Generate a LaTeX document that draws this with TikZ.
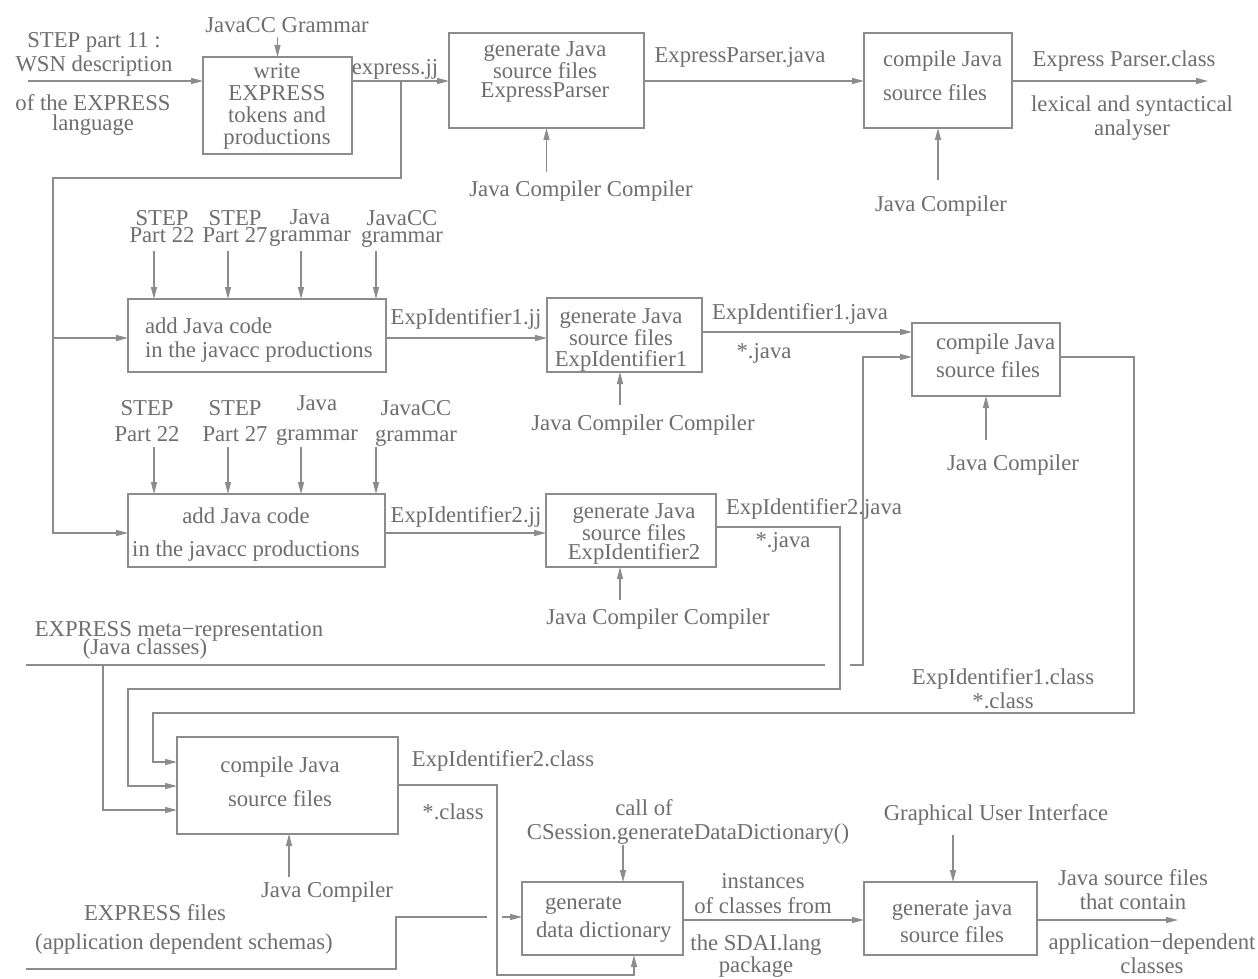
\documentclass[tikz,border=0pt]{standalone}
\usepackage{fontspec}
\setmainfont{Liberation Serif}
\usetikzlibrary{arrows.meta,fit,calc}
\definecolor{inkc}{RGB}{110,110,110}
\definecolor{linec}{RGB}{140,140,140}
\begin{document}
\begin{tikzpicture}[x=1pt,y=-1pt,
  every node/.style={inner sep=0pt,outer sep=0pt},
  procbox/.style={draw=linec,line width=1.4pt},
  txt/.style={text=inkc,font=\fontsize{22.7}{#1}\selectfont,anchor=north,align=center},
  txt/.default=20,
  ltxt/.style={txt=#1,anchor=north west,align=left},
  ltxt/.default=20,
  ln/.style={draw=linec,line width=1.3pt},
  arr/.style={ln,-{Triangle[length=12pt,width=6pt]}}]
\fill[white] (0,0) rectangle (1258,979);
\useasboundingbox (0,0) rectangle (1258,979);

% ---------- process boxes ----------
\node[procbox,fit={(203,57) (352,154)}]   (w)  {};
\node[procbox,fit={(449,33) (644,128)}]   (g1) {};
\node[procbox,fit={(864,33) (1012,128)}]  (c1) {};
\node[procbox,fit={(128,299) (386,372)}]  (a1) {};
\node[procbox,fit={(547,298) (702,372)}]  (g2) {};
\node[procbox,fit={(912,323) (1060,396)}] (c2) {};
\node[procbox,fit={(128,494) (385,567)}]  (a2) {};
\node[procbox,fit={(546,494) (716,567)}]  (g3) {};
\node[procbox,fit={(177,737) (398,834)}]  (c3) {};
\node[procbox,fit={(522,882) (683,955)}]  (d)  {};
\node[procbox,fit={(864,882) (1037,955)}] (gj) {};

% ---------- texts inside the boxes ----------
\node[txt=22] (wt)  at (277,63)  {write\\EXPRESS\\tokens and\\productions};
\node[txt=19] (g1t) at (545,42)  {generate Java\\source files\\ExpressParser};
\node[ltxt=34] (c1t) at (883,51) {compile Java\\source files};
\node[ltxt=24] (a1t) at (145,318) {add Java code\\in the javacc productions};
\node[txt=21.5] (g2t) at (621,309) {generate Java\\source files\\ExpIdentifier1};
\node[ltxt=28] (c2t) at (936,334) {compile Java\\source files};
\node[txt=33] (a2t) at (246,508) {add Java code\\in the javacc productions};
\node[txt=19] (g3t) at (634,504) {generate Java\\source files\\ExpIdentifier2};
\node[txt=34] (c3t) at (280,757) {compile Java\\source files};
\node[ltxt=28] (dt)  at (536,897) {\hspace*{9pt}generate\\data dictionary};
\node[txt=27] (gjt) at (952,900) {generate java\\source files};

% ---------- labels ----------
\node[txt] (jg)    at (287,17)   {JavaCC Grammar};
\node[txt=24] (s11) at (94,32)   {STEP part 11 :\\WSN description};
\node[txt=20] (lang) at (93,95)  {of the EXPRESS\\language};
\node[txt] (ejj)   at (395,59)   {express.jj};
\node[txt] (epj)   at (740,47)   {ExpressParser.java};
\node[txt] (jcc1)  at (581,181)  {Java Compiler Compiler};
\node[txt] (jc1)   at (941,196)  {Java Compiler};
\node[txt] (epc)   at (1124,51)  {Express Parser.class};
\node[txt=24] (lex) at (1132,96) {lexical and syntactical\\analyser};

\node[txt=17] (s22a) at (162,210) {STEP\\Part 22};
\node[txt=17] (s27a) at (235,210) {STEP\\Part 27};
\node[txt=17] (jga)  at (310,210) {Java\\grammar};
\node[txt=17] (jcga) at (402,210) {JavaCC\\grammar};
\node[txt] (e1jj)  at (466,309)  {ExpIdentifier1.jj};
\node[txt] (e1jv)  at (800,304)  {ExpIdentifier1.java};
\node[txt] (sj1)   at (764,343)  {*.java};
\node[txt] (jcc2)  at (643,415)  {Java Compiler Compiler};
\node[txt] (jc2)   at (1013,455) {Java Compiler};

\node[txt=26] (s22b) at (147,400) {STEP\\Part 22};
\node[txt=26] (s27b) at (235,400) {STEP\\Part 27};
\node[txt=30] (jgb)  at (317,396) {Java\\grammar};
\node[txt=26] (jcgb) at (416,400) {JavaCC\\grammar};
\node[txt] (e2jj)  at (466,507)  {ExpIdentifier2.jj};
\node[txt] (e2jv)  at (814,499)  {ExpIdentifier2.java};
\node[txt] (sj2)   at (783,532)  {*.java};
\node[txt] (jcc3)  at (658,609)  {Java Compiler Compiler};
\node[txt=24] (e1c) at (1003,669) {ExpIdentifier1.class\\*.class};

\node[txt] (meta)  at (179,621)  {EXPRESS meta−representation};
\node[txt] (jcl)   at (145,639)  {(Java classes)};
\node[txt] (e2c)   at (503,751)  {ExpIdentifier2.class};
\node[txt] (sc)    at (453,804)  {*.class};
\node[txt] (jc3)   at (327,882)  {Java Compiler};
\node[txt] (exf)   at (155,905)  {EXPRESS files};
\node[txt] (ads)   at (184,934)  {(application dependent schemas)};
\node[txt] (callof) at (644,800) {call of};
\node[txt] (csess) at (688,824)  {CSession.generateDataDictionary()};
\node[txt=25] (inst) at (763,873) {instances\\of classes from};
\node[txt=19] (sdai) at (756,935) {the SDAI.lang\\package};
\node[txt] (gui)   at (996,805)  {Graphical User Interface};
\node[txt=24] (jsf) at (1133,870) {Java source files\\that contain};
\node[txt=24] (appd) at (1152,934) {application−dependent\\classes};

% ---------- free ends ----------
\coordinate (src11) at (28,81);
\coordinate (split) at (401,81);
\coordinate (out1)  at (1208,81);
\coordinate (metaL) at (26,665);
\coordinate (exfL)  at (26,969);
\coordinate (outgj) at (1178,920);

% ---------- row 1 ----------
\draw[arr] (src11) -- (w.west |- src11);
\draw[arr] (w.north |- 0,37) -- (w.north);
\draw[arr] (w.east |- src11) -- (g1.west |- src11);
\draw[arr] (split) -- ++(0,97) -| (53,533) -- (a2.west |- 0,533);
\draw[arr] (53,338) -- (a1.west |- 0,338);
\draw[arr] (g1.south |- 0,172) -- (g1.south);
\draw[arr] (g1.east |- src11) -- (c1.west |- src11);
\draw[arr] (c1.south |- 0,180) -- (c1.south);
\draw[arr] (c1.east |- out1) -- (out1);

% ---------- row 2 ----------
\draw[arr] (154,251) -- (a1.north -| 154,0);
\draw[arr] (228,251) -- (a1.north -| 228,0);
\draw[arr] (301,251) -- (a1.north -| 301,0);
\draw[arr] (376,251) -- (a1.north -| 376,0);
\draw[arr] (a1.east |- 0,338) -- (g2.west |- 0,338);
\draw[arr] (620,405) -- (g2.south -| 620,0);
\draw[arr] (g2.east |- 0,332) -- (c2.west |- 0,332);
\draw[arr] (986,440) -- (c2.south -| 986,0);

\draw[arr] (154,447) -- (a2.north -| 154,0);
\draw[arr] (228,447) -- (a2.north -| 228,0);
\draw[arr] (301,447) -- (a2.north -| 301,0);
\draw[arr] (376,447) -- (a2.north -| 376,0);
\draw[arr] (a2.east |- 0,533) -- (g3.west |- 0,533);
\draw[arr] (620,600) -- (g3.south -| 620,0);

% ---------- feedback lines into the lower compile step ----------
\draw[arr] (g3.east |- 0,527) -| (840,689) -| (128,786) -- (c3.west |- 0,786);
\draw[ln]  (metaL) -- (825,665);
\draw[arr] (850,665) -| (863,357) -- (c2.west |- 0,357);
\draw[arr] (103,665) |- (c3.west |- 0,810);
\draw[arr] (c2.east |- 0,357) -| (1134,713) -| (153,762) -- (c3.west |- 0,762);

% ---------- row 3 ----------
\draw[arr] (c3.east |- 0,785) -| (497,975) -| (d.south -| 634,0);
\draw[arr] (c3.south -| 289,0) ++(0,43) -- (c3.south -| 289,0);
\draw[ln]  (exfL) -| (396,917) -- (487,917);
\draw[arr] (502,917) -- (d.west |- 0,917);
\draw[arr] (623,845) -- (d.north -| 623,0);
\draw[arr] (d.east |- 0,920) -- (gj.west |- 0,920);
\draw[arr] (953,835) -- (gj.north -| 953,0);
\draw[arr] (gj.east |- outgj) -- (outgj);
\end{tikzpicture}
\end{document}
